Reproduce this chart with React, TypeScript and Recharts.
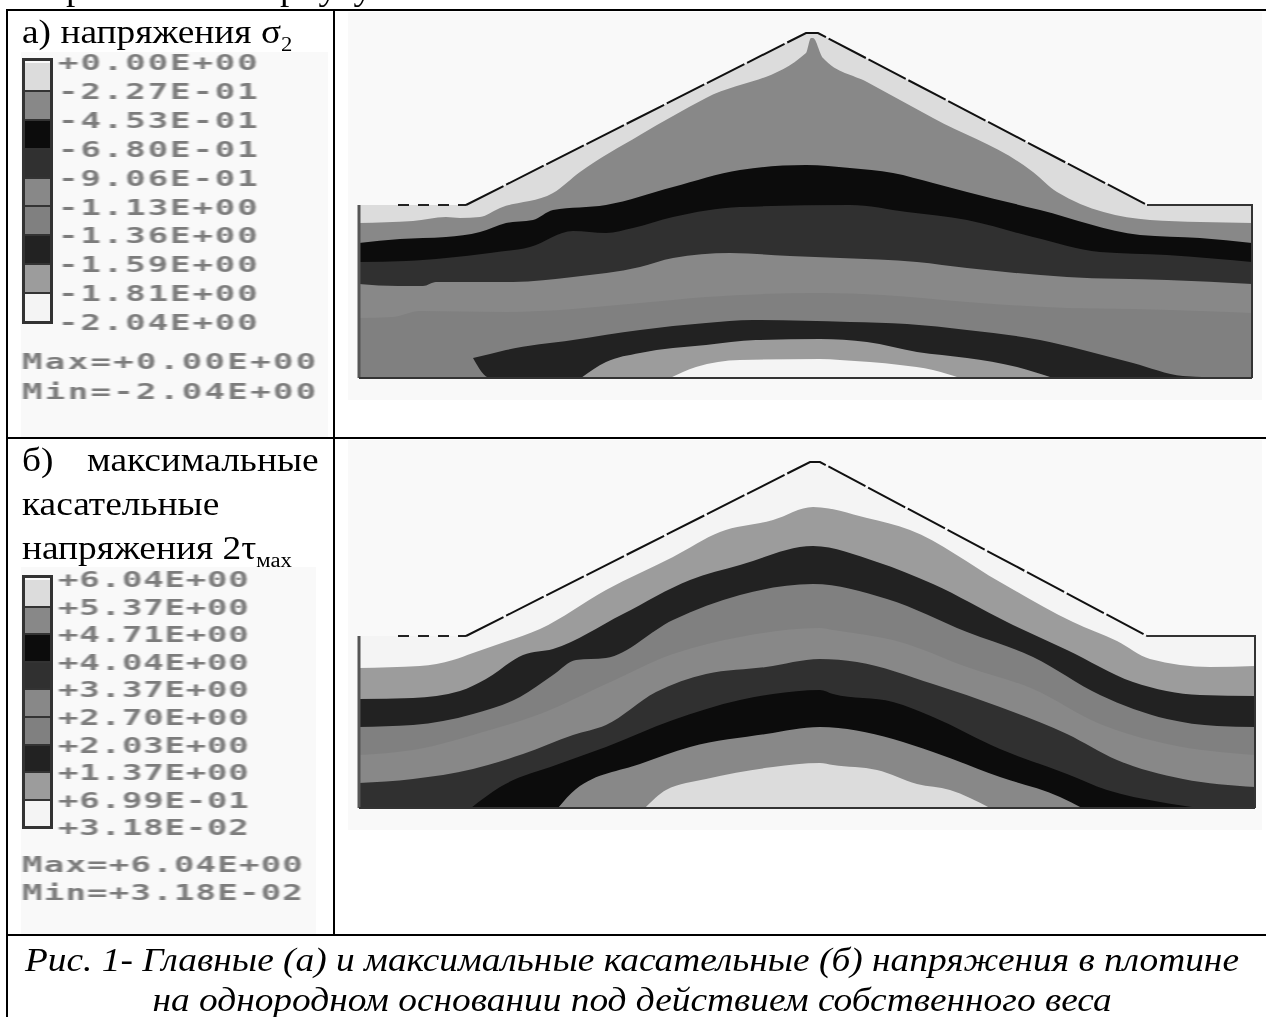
import React from 'react';
import { ComposedChart, Area, Line, XAxis, YAxis } from 'recharts';

// [distance along the dam, height above the base, optional lower edge]
type Pt = number[];

const sigmaSurface: Pt[] = [[0, 173], [107, 173], [447, 345], [459, 345], [788, 173], [893, 173]];
const sigmaB1: Pt[] = [[0, 155], [54, 157], [87, 161], [101, 160], [121, 161], [141, 170], [194, 185], [221, 206], [281, 243], [347, 280], [447, 325], [452, 340], [454, 340], [464, 320], [508, 296], [574, 260], [674, 206], [698, 186], [791, 158], [841, 156], [893, 155]];
const sigmaB2: Pt[] = [[0, 135], [41, 139], [87, 141], [121, 146], [147, 155], [174, 158], [194, 168], [247, 173], [314, 191], [381, 208], [447, 213], [491, 210], [534, 205], [574, 195], [608, 186], [681, 168], [781, 143], [841, 140], [893, 135]];
const sigmaB3: Pt[] = [[0, 116], [47, 117], [87, 120], [131, 125], [171, 131], [214, 147], [247, 145], [274, 150], [314, 161], [381, 171], [491, 173], [548, 166], [608, 158], [674, 141], [741, 126], [808, 123], [893, 116]];
const sigmaB4: Pt[] = [[0, 94], [39, 92], [64, 92], [77, 96], [154, 96], [214, 101], [281, 111], [314, 120], [371, 125], [431, 122], [481, 120], [558, 116], [608, 110], [708, 101], [808, 98], [893, 94]];
const sigmaB5: Pt[] = [[0, 60], [34, 61], [61, 67], [147, 66], [281, 75], [347, 81], [461, 85], [524, 83], [608, 76], [708, 70], [774, 69], [893, 65]];
const sigmaB6: Pt[] = [[114, 20, 20], [131, 24, 0], [147, 28], [214, 38], [281, 48], [347, 55], [394, 58], [491, 56], [548, 54], [608, 48], [681, 38], [724, 28], [774, 15], [824, 2], [874, 0]];
const sigmaB7: Pt[] = [[222, 0], [247, 16], [281, 25], [347, 33], [397, 38], [461, 39], [508, 36], [558, 26], [608, 20], [658, 11], [694, 0]];
const sigmaB8: Pt[] = [[311, 0], [337, 11], [381, 18], [461, 19], [481, 18], [541, 13], [574, 8], [601, 0]];

const tauSurface: Pt[] = [[0, 172], [107, 172], [451, 346], [461, 346], [788, 172], [896, 172]];
const tauC1: Pt[] = [[0, 140], [61, 142], [94, 148], [114, 155], [137, 163], [181, 179], [247, 218], [314, 251], [361, 276], [414, 288], [454, 301], [508, 290], [551, 278], [641, 226], [714, 186], [758, 167], [791, 149], [851, 141], [896, 142]];
const tauC2: Pt[] = [[0, 109], [54, 110], [101, 117], [127, 129], [164, 153], [194, 159], [264, 194], [331, 228], [381, 243], [454, 262], [518, 246], [574, 224], [648, 186], [708, 158], [774, 126], [841, 113], [896, 112]];
const tauC3: Pt[] = [[0, 81], [54, 83], [114, 94], [161, 111], [194, 133], [217, 148], [247, 150], [314, 188], [381, 213], [454, 224], [528, 209], [608, 176], [674, 151], [741, 113], [808, 89], [858, 82], [896, 81]];
const tauC4: Pt[] = [[0, 53], [54, 58], [131, 78], [181, 94], [247, 124], [314, 154], [381, 171], [461, 180], [474, 178], [541, 166], [608, 141], [674, 119], [741, 84], [808, 64], [896, 53]];
const tauC5: Pt[] = [[0, 25], [54, 29], [114, 39], [164, 54], [214, 73], [247, 83], [297, 116], [347, 134], [407, 141], [461, 149], [498, 146], [574, 124], [641, 101], [708, 74], [758, 48], [824, 29], [896, 21]];
const tauC6: Pt[] = [[112, 0], [141, 21], [197, 43], [247, 61], [314, 88], [381, 108], [414, 114], [461, 118], [474, 114], [534, 106], [574, 91], [641, 59], [708, 34], [748, 18], [801, 6], [841, 0]];
const tauC7: Pt[] = [[199, 0], [217, 19], [281, 44], [331, 61], [407, 74], [461, 81], [534, 69], [574, 56], [641, 31], [701, 11], [723, 0]];
const tauC8: Pt[] = [[286, 0], [307, 18], [347, 29], [414, 41], [461, 45], [474, 43], [518, 38], [558, 24], [591, 18], [631, 0]];

const sigmaLevels = ['+0.00E+00', '-2.27E-01', '-4.53E-01', '-6.80E-01', '-9.06E-01', '-1.13E+00', '-1.36E+00', '-1.59E+00', '-1.81E+00', '-2.04E+00'];
const tauLevels = ['+6.04E+00', '+5.37E+00', '+4.71E+00', '+4.04E+00', '+3.37E+00', '+2.70E+00', '+2.03E+00', '+1.37E+00', '+6.99E-01', '+3.18E-02'];

const bandColors = ['#dcdcdc', '#888888', '#0c0c0c', '#303030', '#888888', '#808080', '#222222', '#9c9c9c', '#f4f4f4'];

const toRows = (pts: Pt[]) => pts.map(([d, h, low]) => ({ d, h, low: low ?? 0 }));

const serif = '"Liberation Serif", serif';

const StressPanel = ({ top, height, marginTop, marginRight, width, contours, colors, surface }: any) => {
    const n = surface.length;
    return (
        <div style={{ position: 'absolute', left: 348, top, width: 914, height, background: '#f9f9f9', filter: 'blur(0.5px)' }}>
            <ComposedChart width={914} height={height} margin={{ top: marginTop, right: marginRight, bottom: 22, left: 11 }}>
                <XAxis type="number" dataKey="d" domain={[0, width]} hide />
                <YAxis type="number" domain={[0, 360]} hide />
                {contours.map((c: Pt[], i: number) => (
                    <Area
                        key={i}
                        data={toRows(c)}
                        dataKey={(p: any) => [p.low, p.h]}
                        type={i === 0 ? 'linear' : 'monotone'}
                        fill={colors[i]}
                        fillOpacity={1}
                        stroke="none"
                        dot={false}
                        activeDot={false}
                        isAnimationActive={false}
                    />
                ))}
                {/* outline: dashed crest, solid walls and base */}
                <Line data={toRows([[39, surface[0][1]], surface[1]])} dataKey="h" stroke="#222" strokeWidth={2} strokeDasharray="11 9" dot={false} isAnimationActive={false} />
                <Line data={toRows(surface.slice(1, n - 1))} dataKey="h" stroke="#111" strokeWidth={2} strokeDasharray="42 3" dot={false} isAnimationActive={false} />
                <Line data={toRows([[0, 0], [0, surface[0][1]]])} dataKey="h" stroke="#555" strokeWidth={3} dot={false} isAnimationActive={false} />
                <Line data={toRows([[0, 0], [width, 0]])} dataKey="h" stroke="#333" strokeWidth={2} dot={false} isAnimationActive={false} />
                <Line data={toRows([surface[n - 2], surface[n - 1], [width, 0]])} dataKey="h" stroke="#333" strokeWidth={2} dot={false} isAnimationActive={false} />
            </ComposedChart>
        </div>
    );
};

const LegendText = ({ x, y, text, spacing }: any) => (
    <div style={{
        position: 'absolute', left: x, top: y, fontFamily: '"DejaVu Sans Mono", monospace', fontSize: 21, lineHeight: '24px', fontWeight: 700,
        color: '#7c7c7c', letterSpacing: spacing, whiteSpace: 'pre', transform: 'scaleX(1.62)', transformOrigin: 'left top', filter: 'blur(0.5px)',
    }}>{text}</div>
);

const ScaleLegend = ({ labels, top, step, spacing, maxText, minText, maxTop, minTop, bg }: any) => (
    <>
        <div style={{ position: 'absolute', ...bg, background: '#f9f9f9' }} />
        <div style={{ position: 'absolute', left: 22, top: top - 3, width: 25, border: '3px solid #333', filter: 'blur(0.5px)' }}>
            {bandColors.map((c, i) => (
                <div key={i} style={{ height: step - 2, background: c, borderTop: i ? '2px solid #333' : 'none', marginTop: i ? 0 : 2 }} />
            ))}
        </div>
        {labels.map((l: string, i: number) => (
            <LegendText key={l} x={58} y={top + i * step - 10} text={l} spacing={spacing} />
        ))}
        <LegendText x={22} y={maxTop} text={maxText} spacing={spacing + 0.25} />
        <LegendText x={22} y={minTop} text={minText} spacing={spacing + 0.25} />
    </>
);

const Cell = ({ x, y, children, style }: any) => (
    <div style={{
        position: 'absolute', left: x, top: y, fontFamily: serif, fontSize: 33, lineHeight: '30px', whiteSpace: 'pre', color: '#000',
        transform: 'scaleX(1.133)', transformOrigin: 'left top', ...style,
    }}>{children}</div>
);

const subStyle = { fontSize: 20, lineHeight: 0 };

const Rule = ({ x, y, w, h }: any) => <div style={{ position: 'absolute', left: x, top: y, width: w, height: h, background: '#000' }} />;

export default function App() {
    return (
        <div style={{ position: 'absolute', left: 0, top: 0, width: 1266, height: 1017, overflow: 'hidden', background: '#fff' }}>
            <Cell x={20} y={-26}>а при этом по корпусу</Cell>

            <ScaleLegend
                labels={sigmaLevels} top={61} step={28.9} spacing={1.19}
                maxText="Max=+0.00E+00" minText="Min=-2.04E+00" maxTop={350} minTop={380}
                bg={{ left: 21, top: 52, width: 307, height: 385 }}
            />
            <ScaleLegend
                labels={tauLevels} top={578} step={27.6} spacing={0.5}
                maxText="Max=+6.04E+00" minText="Min=+3.18E-02" maxTop={853} minTop={881}
                bg={{ left: 21, top: 567, width: 295, height: 367 }}
            />

            <StressPanel top={12} height={388} marginTop={6} marginRight={10} width={893} surface={sigmaSurface} colors={bandColors}
                contours={[sigmaSurface, sigmaB1, sigmaB2, sigmaB3, sigmaB4, sigmaB5, sigmaB6, sigmaB7, sigmaB8]} />
            <StressPanel top={440} height={390} marginTop={8} marginRight={7} width={896} surface={tauSurface} colors={[...bandColors].reverse()}
                contours={[tauSurface, tauC1, tauC2, tauC3, tauC4, tauC5, tauC6, tauC7, tauC8]} />

            <Rule x={6} y={9} w={1260} h={2} />
            <Rule x={6} y={9} w={2} h={1008} />
            <Rule x={333} y={9} w={2} h={926} />
            <Rule x={6} y={437} w={1260} h={2} />
            <Rule x={6} y={934} w={1260} h={2} />

            <Cell x={22} y={17}>а) напряжения σ<sub style={subStyle}>2</sub></Cell>
            <Cell x={22} y={445}>б)</Cell>
            <Cell x={87} y={445}>максимальные</Cell>
            <Cell x={22} y={489}>касательные</Cell>
            <Cell x={22} y={533}>напряжения 2τ<sub style={subStyle}>мах</sub></Cell>

            <Cell x={8} y={945} style={{ width: 1248, textAlign: 'center', fontStyle: 'italic', transformOrigin: 'center top' }}>Рис. 1- Главные (а) и максимальные касательные (б) напряжения в плотине</Cell>
            <Cell x={8} y={985} style={{ width: 1248, textAlign: 'center', fontStyle: 'italic', transformOrigin: 'center top' }}>на однородном основании под действием собственного веса</Cell>
        </div>
    );
}
